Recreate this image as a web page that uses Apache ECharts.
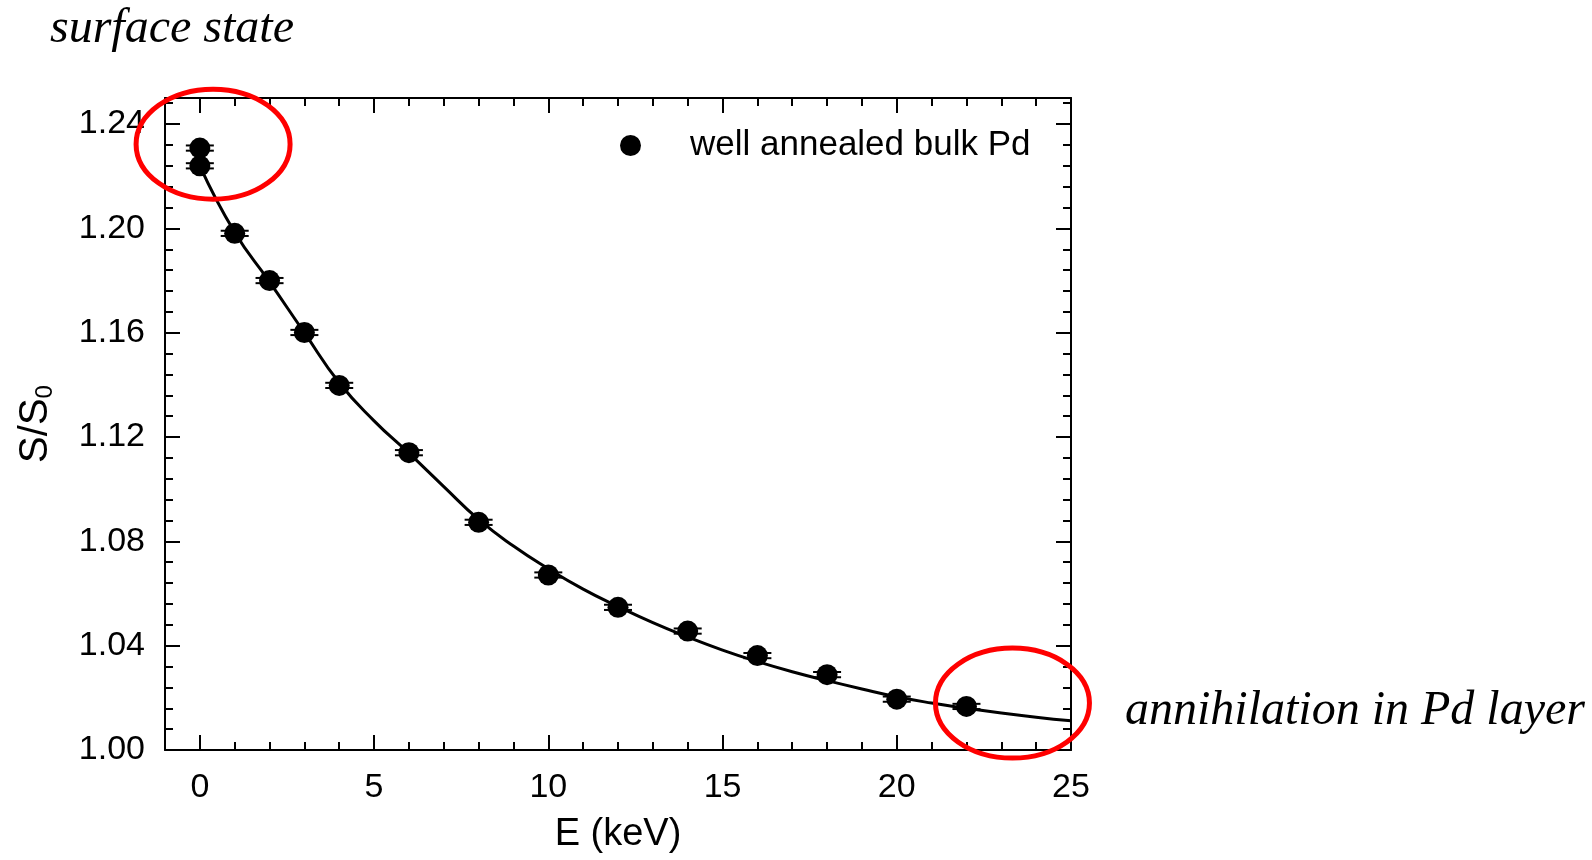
<!DOCTYPE html>
<html>
<head>
<meta charset="utf-8">
<script src="https://cdn.jsdelivr.net/npm/echarts@6/dist/echarts.min.js"></script>
<style>
  html, body { margin: 0; padding: 0; background: #fff; }
  #main { width: 1592px; height: 860px; }
</style>
</head>
<body>
<div id="main"></div>
<script>
// measured points (positron beam energy vs normalised S parameter)
var energy = [0, 0, 1, 2, 3, 4, 6, 8, 10, 12, 14, 16, 18, 20, 22];
var sRatio = [1.2308, 1.2240, 1.1981, 1.1800, 1.1601, 1.1398, 1.1140, 1.0873, 1.0671, 1.0547, 1.0456, 1.0362, 1.0289, 1.0195, 1.0167];
var sError = [0.001, 0.001, 0.001, 0.001, 0.001, 0.001, 0.001, 0.001, 0.001, 0.001, 0.001, 0.001, 0.001, 0.001, 0.001];

// fitted curve
var fitE = [0, 1, 2, 3, 4, 5, 6, 7, 8, 9, 10, 11, 12, 13, 14, 15, 16, 17, 18, 19, 20, 21, 22, 23, 24, 25];
var fitS = [1.2240, 1.1985, 1.1795, 1.1600, 1.1408, 1.1262, 1.1138, 1.1010, 1.0884, 1.0782, 1.0695, 1.0617, 1.0550, 1.0488, 1.0433, 1.0383, 1.0339, 1.0300, 1.0266, 1.0234, 1.0204, 1.0180, 1.0160, 1.0142, 1.0126, 1.0112];

var xMajor = [0, 5, 10, 15, 20, 25];
var yMajor = [1.00, 1.04, 1.08, 1.12, 1.16, 1.20, 1.24];

var legendName = 'well annealed bulk Pd';
// circled regions: [E, S]
var circled = [[0.38, 1.2323], [23.32, 1.0180]];

var sans = "'Liberation Sans', Arial, sans-serif";
var serif = "'Liberation Serif', 'Times New Roman', serif";

var chart = echarts.init(document.getElementById('main'));

function majorX(pos, withLabel) {
    return {
        type: 'value', position: pos, min: -1, max: 25,
        name: withLabel ? 'E (keV)' : '',
        nameLocation: 'middle', nameGap: 66,
        nameTextStyle: { fontSize: 38, color: '#000', fontFamily: sans },
        axisLine: { show: true, onZero: false, lineStyle: { color: '#000', width: 2 } },
        axisTick: { show: true, inside: true, length: 15, customValues: xMajor, lineStyle: { color: '#000', width: 2 } },
        axisLabel: { show: withLabel, customValues: xMajor, fontSize: 34, color: '#000', margin: 21, fontFamily: sans },
        splitLine: { show: false }
    };
}
function minorX(pos) {
    return {
        type: 'value', position: pos, min: -1, max: 25, interval: 1,
        axisLine: { show: false, onZero: false },
        axisTick: { show: true, inside: true, length: 8, lineStyle: { color: '#000', width: 2 } },
        axisLabel: { show: false },
        splitLine: { show: false }
    };
}
function majorY(pos, withLabel) {
    return {
        type: 'value', position: pos, min: 1.0, max: 1.25,
        name: withLabel ? '{a|S/S}{b|0}' : '',
        nameLocation: 'middle', nameGap: 108,
        nameTextStyle: {
            color: '#000', fontFamily: sans,
            rich: {
                a: { fontSize: 40, fontFamily: sans, color: '#000' },
                b: { fontSize: 24, fontFamily: sans, color: '#000', padding: [18, 0, 0, 0] }
            }
        },
        axisLine: { show: true, onZero: false, lineStyle: { color: '#000', width: 2 } },
        axisTick: { show: true, inside: true, length: 15, customValues: yMajor, lineStyle: { color: '#000', width: 2 } },
        axisLabel: {
            show: withLabel, customValues: yMajor, fontSize: 34, color: '#000', margin: 20, fontFamily: sans,
            formatter: function (v) { return v.toFixed(2); }
        },
        splitLine: { show: false }
    };
}
function minorY(pos) {
    return {
        type: 'value', position: pos, min: 1.0, max: 1.25, interval: 0.008,
        axisLine: { show: false, onZero: false },
        axisTick: { show: true, inside: true, length: 8, lineStyle: { color: '#000', width: 2 } },
        axisLabel: { show: false },
        splitLine: { show: false }
    };
}

var points = energy.map(function (e, i) { return [e, sRatio[i], sError[i]]; });
var fit = fitE.map(function (e, i) { return [e, fitS[i]]; });

var option = {
    animation: false,
    backgroundColor: '#fff',
    grid: { left: 165, right: 521, top: 98, bottom: 110 },
    legend: {
        data: [{ name: legendName, icon: 'circle' }],
        left: 620, top: 128, padding: 0,
        itemWidth: 21, itemHeight: 21,
        textStyle: { fontSize: 35, color: '#000', fontFamily: sans, padding: [0, 0, 0, 44] }
    },
    xAxis: [majorX('bottom', true), minorX('bottom'), majorX('top', false), minorX('top')],
    yAxis: [majorY('left', true), minorY('left'), majorY('right', false), minorY('right')],
    series: [
        {
            name: 'fit',
            type: 'line',
            data: fit,
            smooth: 0.5,
            showSymbol: false,
            lineStyle: { color: '#000', width: 3 },
            z: 2
        },
        {
            name: 'error',
            type: 'custom',
            data: points,
            z: 3,
            renderItem: function (params, api) {
                var x = api.value(0), y = api.value(1), err = api.value(2);
                var hi = api.coord([x, y + err]);
                var lo = api.coord([x, y - err]);
                var half = 14;
                var st = { stroke: '#000', lineWidth: 2 };
                return {
                    type: 'group',
                    children: [
                        { type: 'line', shape: { x1: hi[0], y1: hi[1], x2: lo[0], y2: lo[1] }, style: st },
                        { type: 'line', shape: { x1: hi[0] - half, y1: hi[1], x2: hi[0] + half, y2: hi[1] }, style: st },
                        { type: 'line', shape: { x1: lo[0] - half, y1: lo[1], x2: lo[0] + half, y2: lo[1] }, style: st }
                    ]
                };
            }
        },
        {
            name: legendName,
            type: 'scatter',
            data: points,
            symbol: 'circle',
            symbolSize: 21,
            itemStyle: { color: '#000', opacity: 1 },
            z: 4
        }
    ]
};

chart.setOption(option);

// annotations: red ellipses located in data space, plus the two notes
var gfx = circled.map(function (c) {
    var p = chart.convertToPixel({ xAxisIndex: 0, yAxisIndex: 0 }, c);
    return {
        type: 'ellipse',
        shape: { cx: p[0], cy: p[1], rx: 77, ry: 55 },
        style: { fill: 'none', stroke: '#ff0000', lineWidth: 5 },
        z: 10
    };
});
gfx.push({
    type: 'text', left: 50, top: 5,
    style: { text: 'surface state', font: 'italic 48px ' + serif, fill: '#000' }
});
gfx.push({
    type: 'text', left: 1125, top: 687,
    style: { text: 'annihilation in Pd layer', font: 'italic 48px ' + serif, fill: '#000' }
});
chart.setOption({ graphic: { elements: gfx } });
</script>
</body>
</html>
